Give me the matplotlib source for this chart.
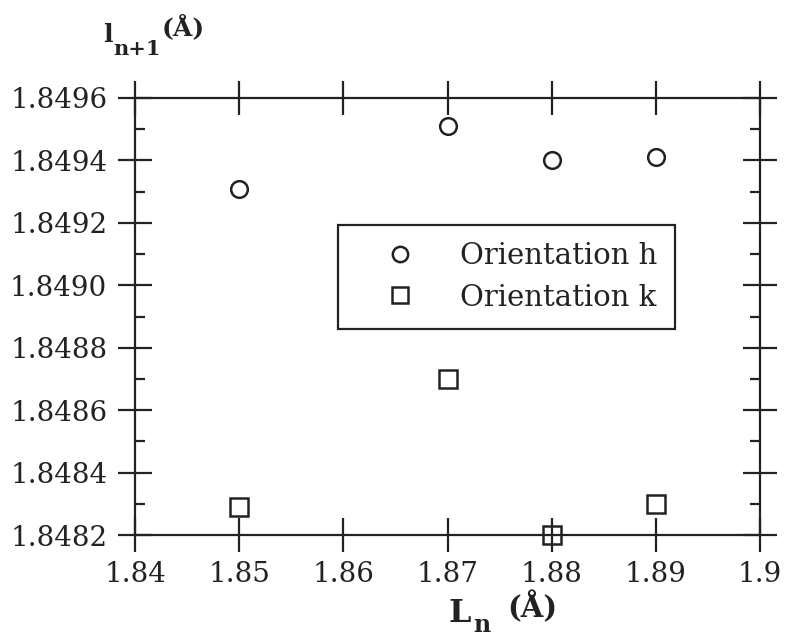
import matplotlib
matplotlib.use('Agg')
import numpy as np
import matplotlib.pyplot as plt
from matplotlib.ticker import MultipleLocator

# 数据
ln_h = [1.85, 1.87, 1.88, 1.89]
l_h = [1.84931, 1.84951, 1.84940, 1.84941]
ln_k = [1.85, 1.87, 1.88, 1.89]
l_k = [1.84829, 1.84870, 1.84820, 1.84830]

x_ticks = [1.84, 1.85, 1.86, 1.87, 1.88, 1.89, 1.90]
x_labels = ['1.84', '1.85', '1.86', '1.87', '1.88', '1.89', '1.9']
y_ticks = [1.8482, 1.8484, 1.8486, 1.8488, 1.8490, 1.8492, 1.8494, 1.8496]
y_labels = ['1.8482', '1.8484', '1.8486', '1.8488', '1.8490',
            '1.8492', '1.8494', '1.8496']

plt.rcParams['font.family'] = ['DejaVu Serif']
ink = '#222222'

W, H = 788, 639
fig = plt.figure(figsize=(W / 100, H / 100), dpi=100)
ax = fig.add_axes([135 / W, 1 - 535 / H, 625 / W, 437 / H])

ax.plot(ln_h, l_h, 'o', ms=12, mfc='white', mec=ink, mew=1.8,
        ls='none', label='Orientation h', clip_on=False, zorder=5)
ax.plot(ln_k, l_k, 's', ms=13, mfc='none', mec=ink, mew=1.8,
        ls='none', label='Orientation k', clip_on=False, zorder=5)

ax.set_xlim(1.84, 1.90)
ax.set_ylim(1.8482, 1.8496)
ax.set_xticks(x_ticks)
ax.set_xticklabels(x_labels)
ax.set_yticks(y_ticks)
ax.set_yticklabels(y_labels)
ax.yaxis.set_minor_locator(MultipleLocator(0.0001))

for s in ax.spines.values():
    s.set_linewidth(1.6)
    s.set_color(ink)
ax.tick_params(which='major', direction='inout', length=24, width=1.6,
               top=True, right=True, labelsize=20, colors=ink)
ax.tick_params(axis='x', which='major', pad=7)
ax.tick_params(axis='y', which='major', pad=8)
ax.tick_params(which='minor', direction='in', length=7, width=1.6,
               left=True, right=True, colors=ink)
ax.tick_params(axis='x', which='minor', bottom=False, top=False)

leg = ax.legend(loc='upper left', bbox_to_anchor=(0.3248, 0.7094),
                borderaxespad=0, fontsize=21, fancybox=False,
                edgecolor=ink, framealpha=1, handletextpad=0.53,
                borderpad=0.6, labelspacing=0.45, handlelength=3.05,
                markerscale=0.92)
leg.get_frame().set_linewidth(1.6)
for t in leg.get_texts():
    t.set_color(ink)

# 坐标轴标题 (带下标)
def px_text(x, y, s, size, **kw):
    fig.text(x / W, 1 - y / H, s, fontsize=size, fontweight='bold',
             ha='left', va='baseline', color=ink, **kw)

px_text(448, 622, 'L', 23)
px_text(473, 632, 'n', 17)
px_text(507, 617, '(Å)', 21)

px_text(103, 42, 'l', 18)
px_text(113, 55, 'n+1', 15)
px_text(162, 35, '(Å)', 18)

plt.savefig('out.png', dpi=100)
